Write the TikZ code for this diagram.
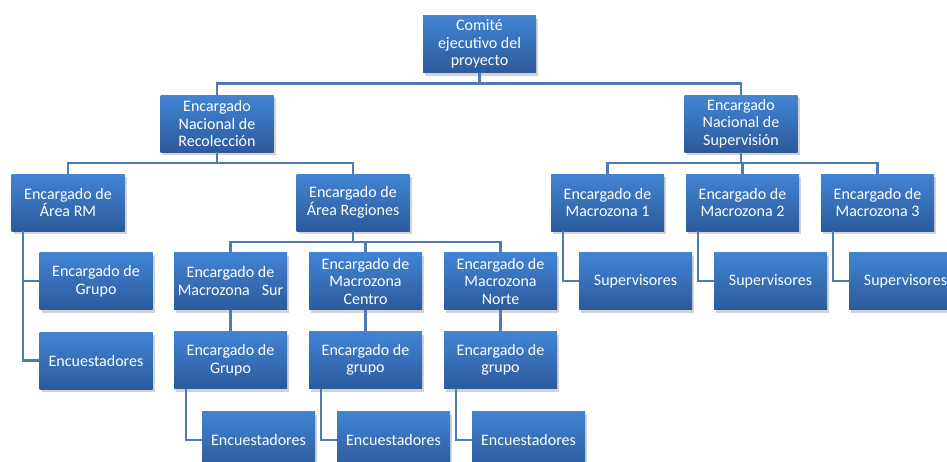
\documentclass[tikz,border=0pt]{standalone}
\usepackage{fontspec}
\setmainfont{Carlito}
\usetikzlibrary{shadows}
\definecolor{boxtop}{RGB}{66,132,212}
\definecolor{boxbot}{RGB}{44,90,155}
\definecolor{connc}{RGB}{80,122,176}
\tikzset{
 box/.style={rectangle, minimum width=113pt, minimum height=57pt, inner sep=0pt, align=center,
   text=white, font=\fontsize{16}{17.5}\selectfont, top color=boxtop, bottom color=boxbot,
   drop shadow={opacity=0.35, shadow xshift=2pt, shadow yshift=-3pt}},
 conn/.style={draw=connc, line width=2.5pt}
}
\begin{document}
\begin{tikzpicture}[x=1pt,y=-1pt]
\useasboundingbox (0,0) rectangle (947,461);
\node[box] (comite) at (479.5,44) {Comité\\ejecutivo del\\proyecto};
\node[box] (nacrec) at (217,123.5) {Encargado\\Nacional de\\Recolección};
\node[box] (nacsup) at (741,123.5) {Encargado\\Nacional de\\Supervisión};
\node[box] (arearm) at (68,202.5) {Encargado de\\Área RM};
\node[box] (areareg) at (353,202.5) {Encargado de\\Área Regiones};
\node[box] (grprm) at (96,281) {Encargado de\\Grupo};
\node[box] (encrm) at (96,360.5) {Encuestadores};
\node[box] (msur) at (230.5,281) {Encargado de\\Macrozona\hspace{12pt}Sur};
\node[box] (mcentro) at (365.5,281) {Encargado de\\Macrozona\\Centro};
\node[box] (mnorte) at (500.5,281) {Encargado de\\Macrozona\\Norte};
\node[box] (gsur) at (230.5,360) {Encargado de\\Grupo};
\node[box] (gcentro) at (365.5,360) {Encargado de\\grupo};
\node[box] (gnorte) at (500.5,360) {Encargado de\\grupo};
\node[box] (esur) at (258.5,440) {Encuestadores};
\node[box] (ecentro) at (393.5,440) {Encuestadores};
\node[box] (enorte) at (528.5,440) {Encuestadores};
\node[box] (m1) at (607.5,202.5) {Encargado de\\Macrozona 1};
\node[box] (m2) at (742.5,202.5) {Encargado de\\Macrozona 2};
\node[box] (m3) at (877.5,202.5) {Encargado de\\Macrozona 3};
\node[box] (s1) at (635.5,281) {Supervisores};
\node[box] (s2) at (770.5,281) {Supervisores};
\node[box] (s3) at (905.5,281) {Supervisores};
% connectors
\draw[conn] (comite.south) -- ++(0,11) coordinate (c0) -| (nacrec.north);
\draw[conn] (c0) -| (nacsup.north);
\draw[conn] (nacrec.south) -- ++(0,11) coordinate (c1) -| (arearm.north);
\draw[conn] (c1) -| (areareg.north);
\draw[conn] (areareg.south) -- ++(0,11) coordinate (c2) -| (msur.north);
\draw[conn] (c2) -| (mcentro.north);
\draw[conn] (c2) -| (mnorte.north);
\draw[conn] (nacsup.south) -- ++(0,11) coordinate (c3) -| (m1.north);
\draw[conn] (c3) -| (m2.north);
\draw[conn] (c3) -| (m3.north);
\draw[conn] ([xshift=-45pt]arearm.south) |- (grprm.west);
\draw[conn] ([xshift=-45pt]arearm.south) |- (encrm.west);
\draw[conn] (msur) -- (gsur);
\draw[conn] (mcentro) -- (gcentro);
\draw[conn] (mnorte) -- (gnorte);
\draw[conn] ([xshift=-44.5pt]gsur.south) |- (esur.west);
\draw[conn] ([xshift=-44.5pt]gcentro.south) |- (ecentro.west);
\draw[conn] ([xshift=-44.5pt]gnorte.south) |- (enorte.west);
\draw[conn] ([xshift=-44.5pt]m1.south) |- (s1.west);
\draw[conn] ([xshift=-44.5pt]m2.south) |- (s2.west);
\draw[conn] ([xshift=-44.5pt]m3.south) |- (s3.west);
\end{tikzpicture}
\end{document}
